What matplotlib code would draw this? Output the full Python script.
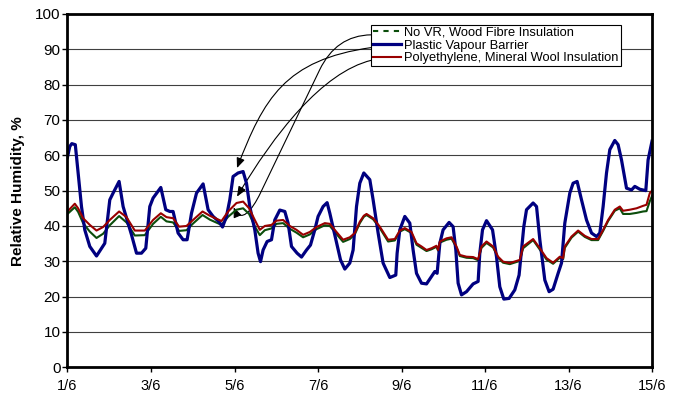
import numpy as np
import matplotlib
matplotlib.use("Agg")
import matplotlib.pyplot as plt
from matplotlib.lines import Line2D
from matplotlib.patches import FancyArrowPatch
from matplotlib.path import Path

plt.rcParams['font.family'] = ['Liberation Sans', 'DejaVu Sans']

# time in days from 1 June 00:00
blue_t = [0.00, 0.055, 0.103, 0.187, 0.254, 0.335, 0.414, 0.534, 0.695, 0.853,
          0.893, 1.013, 1.092, 1.236, 1.332, 1.533, 1.653, 1.772, 1.875, 1.971,
          2.050, 2.235, 2.354, 2.450, 2.529, 2.649, 2.769, 2.865, 2.970, 3.090,
          3.248, 3.368, 3.487, 3.631, 3.713, 3.808, 3.887, 3.966, 4.086, 4.206,
          4.287, 4.366, 4.486, 4.565, 4.623, 4.685, 4.781, 4.886, 4.965, 5.085,
          5.205, 5.284, 5.365, 5.499, 5.605, 5.725, 5.820, 5.923, 6.002, 6.122,
          6.218, 6.283, 6.402, 6.539, 6.642, 6.762, 6.841, 6.922, 7.001, 7.097,
          7.241, 7.320, 7.440, 7.559, 7.720, 7.863, 7.895, 7.959, 8.079, 8.199,
          8.278, 8.359, 8.479, 8.599, 8.719, 8.798, 8.853, 8.918, 8.996, 9.140,
          9.236, 9.301, 9.356, 9.437, 9.557, 9.715, 9.835, 9.875, 9.940, 10.036,
          10.180, 10.275, 10.354, 10.450, 10.577, 10.713, 10.816, 10.929, 10.994, 11.152,
          11.234, 11.313, 11.432, 11.535, 11.631, 11.751, 11.832, 11.911, 12.031, 12.110,
          12.206, 12.311, 12.431, 12.551, 12.671, 12.750, 12.829, 12.910, 12.989, 13.108,
          13.188, 13.269, 13.389, 13.509, 13.588, 13.707, 13.851, 13.906, 14.000]
plastic_vb = [59.5, 62.5, 63.3, 63.0, 55.0, 45.5, 38.9, 34.2, 31.5, 34.4,
              35.1, 47.4, 49.3, 52.6, 45.5, 37.5, 32.3, 32.3, 33.7, 45.5,
              47.9, 50.9, 44.6, 44.1, 44.1, 38.0, 36.1, 36.1, 43.6, 49.3,
              51.9, 44.6, 42.7, 41.2, 39.7, 42.7, 47.4, 54.0, 55.0, 55.4,
              52.1, 45.5, 38.9, 32.3, 29.9, 33.2, 35.6, 36.1, 41.7, 44.5,
              44.1, 40.8, 34.2, 32.3, 31.2, 33.2, 34.6, 38.9, 42.7, 45.5,
              46.6, 43.6, 37.5, 30.4, 27.8, 29.5, 33.2, 45.5, 52.1, 55.0,
              53.1, 47.4, 38.0, 29.5, 25.4, 26.1, 32.3, 38.9, 42.7, 40.8,
              33.2, 26.6, 23.8, 23.6, 25.7, 27.1, 26.6, 35.1, 38.9, 41.0,
              39.8, 33.2, 23.8, 20.5, 21.4, 23.6, 24.3, 32.3, 38.9, 41.5,
              38.9, 31.3, 22.8, 19.3, 19.5, 21.9, 26.1, 39.8, 44.6, 46.5,
              45.5, 36.1, 24.7, 21.4, 22.1, 26.6, 29.5, 40.8, 49.3, 52.1,
              52.6, 47.4, 41.7, 38.0, 37.0, 38.0, 45.5, 55.0, 61.6, 64.2,
              63.0, 58.7, 50.7, 50.2, 51.2, 50.4, 50.0, 58.7, 64.0]

fibre_t = [0.00, 0.175, 0.254, 0.374, 0.534, 0.695, 0.853, 1.013, 1.236, 1.413,
           1.612, 1.851, 2.050, 2.235, 2.371, 2.529, 2.673, 2.850, 3.008, 3.234,
           3.408, 3.689, 3.847, 4.048, 4.206, 4.350, 4.486, 4.606, 4.726, 4.886,
           5.006, 5.164, 5.325, 5.485, 5.643, 5.804, 5.964, 6.163, 6.283, 6.443,
           6.601, 6.762, 6.881, 7.001, 7.097, 7.162, 7.320, 7.480, 7.679, 7.840,
           7.959, 8.079, 8.240, 8.359, 8.479, 8.599, 8.719, 8.838, 8.877, 8.918,
           9.078, 9.198, 9.317, 9.396, 9.557, 9.715, 9.835, 9.916, 10.036, 10.194,
           10.314, 10.433, 10.594, 10.833, 10.913, 11.152, 11.313, 11.473, 11.631, 11.791,
           11.871, 11.911, 12.072, 12.230, 12.391, 12.551, 12.709, 12.829, 12.949, 13.108,
           13.228, 13.307, 13.468, 13.629, 13.787, 13.868, 13.947, 14.000]
no_vr_wood = [43.4, 45.3, 44.0, 40.8, 38.4, 36.6, 37.8, 40.2, 42.8, 41.0,
              37.3, 37.4, 40.6, 42.6, 41.3, 41.0, 38.6, 38.8, 40.7, 43.1,
              41.8, 40.3, 42.6, 44.6, 45.0, 43.4, 39.9, 37.4, 38.8, 39.3,
              40.6, 40.8, 39.2, 38.1, 36.8, 37.6, 39.1, 40.2, 40.0, 37.7,
              35.5, 36.3, 37.6, 40.8, 42.6, 43.1, 41.9, 39.4, 35.6, 35.9,
              38.4, 39.1, 38.0, 34.7, 33.8, 32.9, 33.4, 34.1, 33.0, 35.3,
              36.1, 36.4, 33.9, 31.5, 31.0, 30.9, 30.3, 33.8, 35.2, 33.9,
              31.0, 29.6, 29.2, 30.1, 33.7, 36.0, 33.3, 30.5, 29.3, 31.0,
              30.6, 33.8, 36.7, 38.4, 36.9, 36.0, 36.0, 38.6, 41.4, 44.3,
              45.0, 43.4, 43.4, 43.7, 44.1, 44.2, 47.0, 48.5]
poly_mineral = [44.1, 46.3, 45.0, 42.2, 40.3, 38.7, 39.7, 41.7, 44.1, 42.5,
                38.7, 38.7, 41.7, 43.6, 42.5, 42.2, 39.8, 40.0, 41.7, 44.1,
                42.9, 41.4, 44.1, 46.5, 46.9, 45.0, 41.7, 38.9, 40.0, 40.3,
                41.5, 41.7, 40.0, 38.9, 37.5, 38.3, 39.7, 40.8, 40.6, 38.3,
                36.1, 36.8, 38.0, 41.2, 42.9, 43.4, 42.2, 39.8, 36.1, 36.3,
                38.7, 39.4, 38.3, 35.1, 34.2, 33.2, 33.7, 34.4, 33.2, 35.6,
                36.5, 36.8, 34.2, 31.8, 31.3, 31.2, 30.6, 34.2, 35.6, 34.2,
                31.3, 29.9, 29.5, 30.4, 34.2, 36.3, 33.7, 30.9, 29.6, 31.3,
                30.9, 34.2, 37.0, 38.7, 37.2, 36.3, 36.3, 38.9, 41.7, 44.6,
                45.5, 44.3, 44.6, 45.0, 45.7, 46.0, 49.3, 50.0]

labels = ['No VR, Wood Fibre Insulation', 'Plastic Vapour Barrier',
          'Polyethylene, Mineral Wool Insulation']
colors = ['#0b4d0b', '#000080', '#990000']
date_ticks = [0, 2, 4, 6, 8, 10, 12, 14]
date_labels = ['1/6', '3/6', '5/6', '7/6', '9/6', '11/6', '13/6', '15/6']

fig = plt.figure(figsize=(6.77, 3.94), dpi=100)
ax = fig.add_axes([0.0997, 0.0678, 0.8634, 0.8967])

ax.plot(fibre_t, no_vr_wood, color=colors[0], lw=1.5, solid_joinstyle='round')
ax.plot(blue_t, plastic_vb, color=colors[1], lw=2.3, solid_joinstyle='round')
ax.plot(fibre_t, poly_mineral, color=colors[2], lw=1.5, solid_joinstyle='round')

ax.set_xlim(0, 14)
ax.set_ylim(0, 100)
ax.set_yticks(np.arange(0, 101, 10))
ax.set_xticks(date_ticks)
ax.set_xticklabels(date_labels)
ax.tick_params(axis='both', direction='out', length=3.5, width=1, colors='black')
ax.tick_params(axis='y', pad=1.5, labelsize=11)
ax.tick_params(axis='x', pad=5, labelsize=10.5)
ax.yaxis.grid(True, color='#404040', lw=0.8)
ax.set_axisbelow(True)
for s in ax.spines.values():
    s.set_linewidth(2.0)
    s.set_color('black')

ax.set_ylabel('Relative Humidity, %', fontsize=11, fontweight='bold')
ax.yaxis.set_label_coords(-0.073, 0.5)

# legend with dashed handle for the wood fibre case
handles = [Line2D([], [], color=colors[0], lw=1.5, ls=(0, (2.5, 2.5))),
           Line2D([], [], color=colors[1], lw=2.3),
           Line2D([], [], color=colors[2], lw=1.5)]
leg = ax.legend(handles, labels, loc='upper left', bbox_to_anchor=(0.520, 0.969),
                borderaxespad=0, fontsize=9.3, frameon=True, fancybox=False,
                borderpad=0.15, labelspacing=0.05, handlelength=2.1, handletextpad=0.3)
leg.get_frame().set_edgecolor('black')
leg.get_frame().set_linewidth(0.8)
leg.get_frame().set_alpha(1)

# curved pointers from the legend entries to the curves near 5/6
C4 = Path.CURVE4
pointers = [
    Path([(7.28, 94.1), (6.7, 94.0), (6.3, 90.5), (6.04, 84.2),
          (4.62, 49.3), (4.42, 44.4), (4.15, 40.5), (3.98, 45.3)],
         [Path.MOVETO, C4, C4, C4, Path.LINETO, C4, C4, C4]),
    Path([(7.28, 90.5), (5.2, 87.0), (4.7, 76.0), (4.06, 56.4)],
         [Path.MOVETO, C4, C4, C4]),
    Path([(7.28, 86.9), (6.1, 83.5), (4.95, 66.0), (4.06, 48.3)],
         [Path.MOVETO, C4, C4, C4]),
]
for p in pointers:
    arr = FancyArrowPatch(path=p, arrowstyle='-|>,head_length=0.6,head_width=0.25',
                          mutation_scale=10, color='black', lw=0.8)
    ax.add_patch(arr)

fig.savefig('out.png', dpi=100)
